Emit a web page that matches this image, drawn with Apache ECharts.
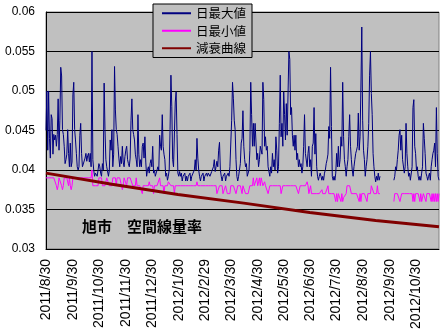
<!DOCTYPE html>
<html>
<head>
<meta charset="utf-8">
<script src="https://cdn.jsdelivr.net/npm/echarts@6.0.0/dist/echarts.min.js"></script>
<style>
  html, body { margin: 0; padding: 0; background: #fff; }
  #chart { width: 445px; height: 332px; }
</style>
</head>
<body>
<div id="chart"></div>
<script>
// Daily air dose rate at Asahi, 2011/8/30 - 2012/11/25 (one category per day)
const startDate = [2011, 8, 30];
const dayCount = 454;

// Month tick labels on the date axis
const tickLabels = [
  '2011/8/30', '2011/9/30', '2011/10/30', '2011/11/30', '2011/12/30',
  '2012/1/30', '2012/2/29', '2012/3/30', '2012/4/30', '2012/5/30',
  '2012/6/30', '2012/7/30', '2012/8/30', '2012/9/30', '2012/10/30'
];

// Y axis ticks
const yTicks = [0.03, 0.035, 0.04, 0.045, 0.05, 0.055, 0.06];

// 日最大値 (daily maximum)
const dailyMax = [
  0.0450, 0.0500, 0.0425, 0.0500, 0.0440, 0.0415, 0.0470, 0.0465, 0.0420, 0.0445,
  0.0438, 0.0444, 0.0430, 0.0445, 0.0490, 0.0425, 0.0463, 0.0530, 0.0519, 0.0451,
  0.0445, 0.0430, 0.0408, 0.0413, 0.0420, 0.0451, 0.0421, 0.0404, 0.0434, 0.0404,
  0.0410, 0.0495, 0.0511, 0.0451, 0.0438, 0.0421, 0.0404, 0.0400, 0.0404, 0.0444,
  0.0459, 0.0421, 0.0404, 0.0404, 0.0404, 0.0415, 0.0421, 0.0411, 0.0418, 0.0421,
  0.0410, 0.0421, 0.0404, 0.0550, 0.0413, 0.0400, 0.0392, 0.0396, 0.0396, 0.0392,
  0.0400, 0.0408, 0.0404, 0.0396, 0.0392, 0.0408, 0.0400, 0.0510, 0.0451, 0.0413,
  0.0404, 0.0404, 0.0392, 0.0400, 0.0438, 0.0425, 0.0451, 0.0404, 0.0420, 0.0531,
  0.0476, 0.0451, 0.0445, 0.0430, 0.0415, 0.0404, 0.0417, 0.0408, 0.0430, 0.0410,
  0.0404, 0.0417, 0.0425, 0.0430, 0.0413, 0.0408, 0.0404, 0.0415, 0.0463, 0.0490,
  0.0451, 0.0445, 0.0438, 0.0420, 0.0413, 0.0404, 0.0470, 0.0420, 0.0404, 0.0413,
  0.0404, 0.0430, 0.0434, 0.0415, 0.0442, 0.0410, 0.0392, 0.0400, 0.0404, 0.0396,
  0.0408, 0.0413, 0.0404, 0.0430, 0.0396, 0.0400, 0.0392, 0.0396, 0.0396, 0.0404,
  0.0400, 0.0444, 0.0430, 0.0425, 0.0470, 0.0430, 0.0420, 0.0413, 0.0392, 0.0396,
  0.0387, 0.0392, 0.0400, 0.0451, 0.0520, 0.0480, 0.0413, 0.0404, 0.0404, 0.0486,
  0.0499, 0.0445, 0.0396, 0.0392, 0.0398, 0.0392, 0.0396, 0.0386, 0.0392, 0.0392,
  0.0396, 0.0386, 0.0392, 0.0386, 0.0392, 0.0392, 0.0396, 0.0386, 0.0392, 0.0392,
  0.0392, 0.0400, 0.0413, 0.0400, 0.0440, 0.0415, 0.0400, 0.0392, 0.0386, 0.0392,
  0.0392, 0.0396, 0.0386, 0.0392, 0.0392, 0.0396, 0.0392, 0.0396, 0.0398, 0.0392,
  0.0392, 0.0398, 0.0396, 0.0404, 0.0413, 0.0398, 0.0404, 0.0411, 0.0404, 0.0425,
  0.0435, 0.0400, 0.0392, 0.0386, 0.0392, 0.0392, 0.0396, 0.0386, 0.0392, 0.0392,
  0.0396, 0.0392, 0.0404, 0.0404, 0.0463, 0.0511, 0.0490, 0.0463, 0.0451, 0.0413,
  0.0392, 0.0386, 0.0392, 0.0392, 0.0408, 0.0434, 0.0440, 0.0475, 0.0430, 0.0413,
  0.0404, 0.0408, 0.0392, 0.0392, 0.0400, 0.0425, 0.0511, 0.0470, 0.0430, 0.0459,
  0.0430, 0.0459, 0.0459, 0.0413, 0.0421, 0.0404, 0.0413, 0.0430, 0.0430, 0.0420,
  0.0511, 0.0489, 0.0430, 0.0442, 0.0425, 0.0430, 0.0404, 0.0404, 0.0392, 0.0404,
  0.0396, 0.0421, 0.0404, 0.0413, 0.0400, 0.0442, 0.0425, 0.0396, 0.0404, 0.0459,
  0.0520, 0.0442, 0.0459, 0.0430, 0.0499, 0.0470, 0.0438, 0.0484, 0.0444, 0.0444,
  0.0550, 0.0540, 0.0470, 0.0479, 0.0444, 0.0430, 0.0444, 0.0425, 0.0444, 0.0413,
  0.0421, 0.0404, 0.0413, 0.0404, 0.0408, 0.0396, 0.0404, 0.0430, 0.0470, 0.0421,
  0.0421, 0.0404, 0.0421, 0.0430, 0.0404, 0.0413, 0.0392, 0.0430, 0.0434, 0.0479,
  0.0420, 0.0446, 0.0404, 0.0392, 0.0387, 0.0392, 0.0396, 0.0392, 0.0387, 0.0392,
  0.0387, 0.0396, 0.0400, 0.0408, 0.0413, 0.0420, 0.0455, 0.0440, 0.0530, 0.0455,
  0.0392, 0.0387, 0.0392, 0.0387, 0.0396, 0.0421, 0.0404, 0.0430, 0.0404, 0.0413,
  0.0442, 0.0430, 0.0511, 0.0442, 0.0413, 0.0404, 0.0392, 0.0404, 0.0413, 0.0442,
  0.0470, 0.0430, 0.0413, 0.0400, 0.0392, 0.0404, 0.0413, 0.0421, 0.0425, 0.0430,
  0.0472, 0.0425, 0.0442, 0.0505, 0.0581, 0.0463, 0.0425, 0.0413, 0.0392, 0.0404,
  0.0413, 0.0430, 0.0459, 0.0520, 0.0550, 0.0497, 0.0470, 0.0421, 0.0404, 0.0392,
  0.0385, 0.0392, 0.0387, 0.0396, 0.0387, 0.0392, null, null, null, null,
  null, null, null, null, null, null, null, null, null, null,
  null, 0.0387, 0.0392, 0.0404, 0.0400, 0.0413, 0.0425, 0.0444, 0.0451, 0.0425,
  0.0444, 0.0413, 0.0413, 0.0396, 0.0404, 0.0459, 0.0421, 0.0404, 0.0392, 0.0396,
  0.0387, 0.0387, 0.0404, 0.0479, 0.0489, 0.0430, 0.0421, 0.0400, 0.0404, 0.0392,
  0.0387, 0.0392, 0.0387, 0.0396, 0.0404, 0.0459, 0.0440, 0.0421, 0.0396, 0.0392,
  0.0387, 0.0392, 0.0396, 0.0387, 0.0404, 0.0413, 0.0421, 0.0425, 0.0434, 0.0404,
  0.0479, 0.0421, 0.0392, 0.0387
];

// 日最小値 (daily minimum)
const dailyMin = [
  0.039, 0.039, 0.039, 0.039, 0.039, 0.039, 0.039, 0.039, 0.039, 0.039,
  0.039, 0.039, 0.038, 0.0375, 0.038, 0.039, 0.039, 0.039, 0.038, 0.0375,
  0.038, 0.039, 0.039, 0.039, 0.039, 0.039, 0.038, 0.039, 0.038, 0.0375,
  0.038, 0.039, 0.039, 0.039, 0.039, 0.039, 0.039, 0.039, 0.039, 0.039,
  0.039, 0.039, 0.039, 0.039, 0.039, 0.039, 0.039, 0.039, 0.039, 0.039,
  0.039, 0.039, 0.039, 0.040, 0.038, 0.038, 0.038, 0.038, 0.038, 0.038,
  0.038, 0.039, 0.039, 0.039, 0.039, 0.038, 0.038, 0.038, 0.038, 0.038,
  0.039, 0.039, 0.039, 0.038, 0.038, 0.038, 0.038, 0.039, 0.039, 0.039,
  0.039, 0.038, 0.039, 0.039, 0.039, 0.039, 0.039, 0.038, 0.0375, 0.038,
  0.039, 0.039, 0.039, 0.038, 0.039, 0.039, 0.039, 0.039, 0.039, 0.039,
  0.038, 0.038, 0.038, 0.038, 0.039, 0.038, 0.038, 0.038, 0.038, 0.038,
  0.038, 0.037, 0.038, 0.038, 0.038, 0.038, 0.038, 0.038, 0.038, 0.0385,
  0.038, 0.038, 0.038, 0.038, 0.037, 0.038, 0.038, 0.038, 0.038, 0.038,
  0.038, 0.039, 0.038, 0.038, 0.038, 0.038, 0.037, 0.038, 0.038, 0.038,
  0.038, 0.0385, 0.0385, 0.0385, 0.038, 0.038, 0.038, 0.038, 0.037, 0.038,
  0.038, 0.038, 0.038, 0.038, 0.038, 0.038, 0.038, 0.038, 0.038, 0.038,
  0.038, 0.038, 0.038, 0.038, 0.038, 0.038, 0.038, 0.038, 0.038, 0.038,
  0.038, 0.038, 0.038, 0.038, 0.0385, 0.038, 0.038, 0.038, 0.038, 0.038,
  0.038, 0.038, 0.038, 0.038, 0.038, 0.038, 0.038, 0.038, 0.038, 0.038,
  0.038, 0.038, 0.038, 0.038, 0.038, 0.038, 0.038, 0.037, 0.037, 0.037,
  0.038, 0.038, 0.038, 0.038, 0.037, 0.037, 0.037, 0.038, 0.038, 0.037,
  0.037, 0.037, 0.037, 0.038, 0.038, 0.038, 0.038, 0.038, 0.038, 0.037,
  0.037, 0.038, 0.038, 0.038, 0.038, 0.038, 0.037, 0.038, 0.038, 0.038,
  0.037, 0.037, 0.037, 0.037, 0.037, 0.038, 0.038, 0.038, 0.038, 0.039,
  0.038, 0.038, 0.038, 0.039, 0.038, 0.0385, 0.039, 0.038, 0.039, 0.039,
  0.038, 0.038, 0.0385, 0.038, 0.038, 0.038, 0.037, 0.037, 0.038, 0.038,
  0.038, 0.038, 0.038, 0.038, 0.038, 0.038, 0.038, 0.038, 0.038, 0.038,
  0.038, 0.037, 0.037, 0.038, 0.038, 0.038, 0.038, 0.038, 0.038, 0.038,
  0.038, 0.038, 0.038, 0.038, 0.038, 0.038, 0.038, 0.038, 0.038, 0.038,
  0.038, 0.037, 0.037, 0.038, 0.038, 0.038, 0.038, 0.038, 0.038, 0.038,
  0.038, 0.0385, 0.038, 0.037, 0.037, 0.038, 0.037, 0.037, 0.037, 0.037,
  0.037, 0.037, 0.037, 0.037, 0.037, 0.037, 0.037, 0.037, 0.0375, 0.037,
  0.037, 0.037, 0.037, 0.037, 0.037, 0.038, 0.037, 0.037, 0.037, 0.037,
  0.037, 0.037, 0.037, 0.037, 0.036, 0.037, 0.036, 0.037, 0.037, 0.037,
  0.036, 0.037, 0.036, 0.0365, 0.0365, 0.0365, 0.037, 0.038, 0.038, 0.038,
  0.038, 0.038, 0.037, 0.037, 0.037, 0.037, 0.037, 0.037, 0.037, 0.037,
  0.037, 0.036, 0.037, 0.036, 0.037, 0.037, 0.037, 0.037, 0.037, 0.037,
  0.036, 0.037, 0.037, 0.037, 0.037, 0.038, 0.038, 0.038, 0.037, 0.037,
  0.037, 0.037, 0.038, 0.037, 0.037, 0.037, null, null, null, null,
  null, null, null, null, null, null, null, null, null, null,
  null, 0.036, 0.037, 0.037, 0.037, 0.037, 0.037, 0.037, 0.036, 0.036,
  0.037, 0.037, 0.037, 0.037, 0.037, 0.037, 0.037, 0.037, 0.037, 0.037,
  0.037, 0.037, 0.037, 0.036, 0.037, 0.036, 0.037, 0.037, 0.037, 0.037,
  0.037, 0.036, 0.037, 0.036, 0.036, 0.037, 0.037, 0.037, 0.036, 0.037,
  0.037, 0.037, 0.037, 0.037, 0.036, 0.037, 0.036, 0.037, 0.036, 0.037,
  0.036, 0.037, 0.036, 0.037
];

// 減衰曲線 (expected physical decay), sampled at these dates
const decayDates = ['2011/8/30', '2011/11/14', '2012/1/29', '2012/4/14', '2012/6/29', '2012/9/13', '2012/11/25'];
const decayValues = [0.0396, 0.0382, 0.0369, 0.0358, 0.0346, 0.0336, 0.0328];

// Build the day-by-day category list
const categories = [];
{
  const t0 = Date.UTC(startDate[0], startDate[1] - 1, startDate[2]);
  for (let i = 0; i < dayCount; i++) {
    const d = new Date(t0 + i * 86400000);
    categories.push(d.getUTCFullYear() + '/' + (d.getUTCMonth() + 1) + '/' + d.getUTCDate());
  }
}
const tickSet = new Set(tickLabels);

const chart = echarts.init(document.getElementById('chart'), null, { renderer: 'canvas' });
const latin = '"Liberation Sans", Arial, sans-serif';
const cjk = '"Noto Sans CJK JP", sans-serif';

chart.setOption({
  animation: false,
  backgroundColor: '#ffffff',
  grid: {
    left: 46, right: 6, top: 12, bottom: 83,
    show: true, backgroundColor: '#C0C0C0', borderColor: '#808080', borderWidth: 1
  },
  legend: {
    orient: 'vertical',
    left: 153, top: 4,
    padding: [3, 6, 3, 8],
    itemWidth: 29, itemHeight: 14, itemGap: 5,
    backgroundColor: '#C0C0C0', borderColor: '#000', borderWidth: 1, borderRadius: 0,
    itemStyle: { opacity: 0 },
    textStyle: { fontFamily: cjk, fontSize: 12.5, color: '#000' },
    data: ['日最大値', '日最小値', '減衰曲線']
  },
  xAxis: {
    type: 'category',
    data: categories,
    boundaryGap: false,
    axisLine: { show: true, lineStyle: { color: '#000', width: 1 } },
    axisTick: { show: false },
    splitLine: { show: false },
    axisLabel: {
      interval: (idx, val) => tickSet.has(val),
      rotate: 90,
      margin: 10,
      fontFamily: latin, fontSize: 14, color: '#000'
    }
  },
  yAxis: {
    type: 'value',
    min: yTicks[0], max: yTicks[yTicks.length - 1], interval: 0.005,
    axisLine: { show: true, lineStyle: { color: '#000', width: 1 } },
    axisTick: { show: false },
    splitLine: { show: true, lineStyle: { color: '#000', width: 1 } },
    axisLabel: {
      margin: 11,
      fontFamily: latin, fontSize: 12, color: '#000',
      formatter: v => String(+v.toFixed(3))
    }
  },
  graphic: [{
    type: 'text',
    left: 82, top: 219,
    style: { text: '旭市　空間線量率', font: 'bold 15px "Noto Sans CJK JP", sans-serif', fill: '#000' },
    z: 100
  }],
  series: [
    {
      name: '日最大値', type: 'line', data: dailyMax, symbol: 'none', connectNulls: false,
      lineStyle: { color: '#000080', width: 1 }, itemStyle: { color: '#000080' }
    },
    {
      name: '日最小値', type: 'line', data: dailyMin, symbol: 'none', connectNulls: false,
      lineStyle: { color: '#FF00FF', width: 1 }, itemStyle: { color: '#FF00FF' }
    },
    {
      name: '減衰曲線', type: 'line', symbol: 'none',
      data: decayDates.map((d, i) => [d, decayValues[i]]),
      lineStyle: { color: '#800000', width: 3 }, itemStyle: { color: '#800000' }
    }
  ]
});
</script>
</body>
</html>
